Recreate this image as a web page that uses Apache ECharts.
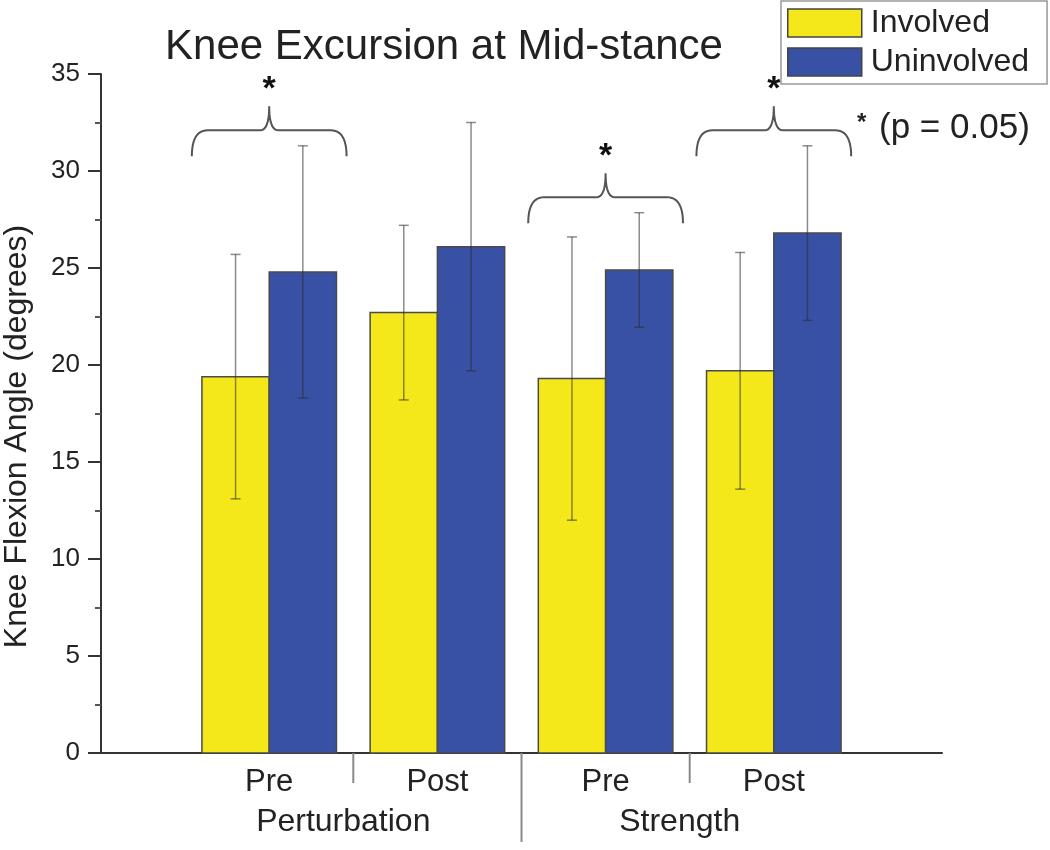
<!DOCTYPE html>
<html><head><meta charset="utf-8">
<script src="https://cdn.jsdelivr.net/npm/echarts/dist/echarts.min.js"></script>
<style>html,body{margin:0;padding:0;background:#fff}#c{width:1050px;height:850px}</style>
</head><body><div id="c"></div>
<script>
// ---- data ----
const categories = ['Pre', 'Post', 'Pre', 'Post'];
const groups = ['Perturbation', 'Strength'];
const seriesNames = ['Involved', 'Uninvolved'];
const involved = [19.4, 22.7, 19.3, 19.7];
const involvedSD = [6.3, 4.5, 7.3, 6.1];
const uninvolved = [24.8, 26.1, 24.9, 26.8];
const uninvolvedSD = [6.5, 6.4, 2.95, 4.5];
const significant = [true, false, true, true];
const yTicks = [0, 5, 10, 15, 20, 25, 30, 35];
const titleText = 'Knee Excursion at Mid-stance';
const yName = 'Knee Flexion Angle (degrees)';
const pNote = '(p = 0.05)';

// ---- styles ----
const FONT = 'Liberation Sans, Arial, Helvetica, sans-serif';
const YELLOW = '#f5e81a';
const BLUE = '#3851a4';
const BW = 0.4;   // bar width in x units
const BH = 0.46;  // brace half width in x units

const chart = echarts.init(document.getElementById('c'), null, {renderer: 'canvas'});

function barRenderer(side, color) {
  return function (params, api) {
    const x = api.value(0), v = api.value(1);
    const xa = side < 0 ? x - BW : x, xb = side < 0 ? x : x + BW;
    const p0 = api.coord([xa, v]), p1 = api.coord([xb, 0]);
    return {type: 'rect', shape: {x: p0[0], y: p0[1], width: p1[0] - p0[0], height: p1[1] - p0[1]},
      style: {fill: color, stroke: '#4a4a4a', lineWidth: 1.5}};
  };
}
function errRenderer(side) {
  return function (params, api) {
    const x = api.value(0) + side * BW / 2;
    const lo = api.coord([x, api.value(1)]), hi = api.coord([x, api.value(2)]);
    const c = 5;
    const st = {stroke: 'rgba(45,45,45,0.55)', lineWidth: 1.5};
    return {type: 'group', children: [
      {type: 'line', shape: {x1: lo[0], y1: lo[1], x2: hi[0], y2: hi[1]}, style: st},
      {type: 'line', shape: {x1: hi[0] - c, y1: hi[1], x2: hi[0] + c, y2: hi[1]}, style: st},
      {type: 'line', shape: {x1: lo[0] - c, y1: lo[1], x2: lo[0] + c, y2: lo[1]}, style: st}
    ]};
  };
}
function quad(p0, c, p1, n) {
  const out = [];
  for (let i = 1; i <= n; i++) {
    const t = i / n, u = 1 - t;
    out.push([u * u * p0[0] + 2 * u * t * c[0] + t * t * p1[0], u * u * p0[1] + 2 * u * t * c[1] + t * t * p1[1]]);
  }
  return out;
}
function braceRenderer(params, api) {
  const c = api.value(0), lvl = api.value(1);
  const L = api.coord([c - BH, lvl]), R = api.coord([c + BH, lvl]);
  const y = L[1], x0 = L[0], x1 = R[0], xc = (x0 + x1) / 2;
  const drop = 26, peak = 24, rc = 16, cw = 9;
  let pts = [[x0, y + drop]];
  pts = pts.concat(quad([x0, y + drop], [x0, y], [x0 + rc, y], 12));
  pts.push([xc - cw, y]);
  pts = pts.concat(quad([xc - cw, y], [xc, y], [xc, y - peak], 10));
  pts = pts.concat(quad([xc, y - peak], [xc, y], [xc + cw, y], 10));
  pts.push([x1 - rc, y]);
  pts = pts.concat(quad([x1 - rc, y], [x1, y], [x1, y + drop], 12));
  return {type: 'group', children: [
    {type: 'polyline', shape: {points: pts}, style: {stroke: '#555', lineWidth: 2, fill: null}},
    {type: 'text', x: xc, y: y - peak - 17, style: {text: '*', font: 'bold 34px ' + FONT, fill: '#111', align: 'center', verticalAlign: 'middle'}}
  ]};
}
function dividerRenderer(params, api) {
  const x = api.value(0), long = api.value(1) > 0;
  const p = api.coord([x, 0]);
  return {type: 'line', shape: {x1: p[0], y1: p[1], x2: p[0], y2: p[1] + (long ? 89 : 30)},
    style: {stroke: '#8a8a8a', lineWidth: 2}};
}
function groupLabelRenderer(params, api) {
  const p = api.coord([api.value(0), 0]);
  return {type: 'text', x: p[0] - 10, y: p[1] + 69,
    style: {text: groups[params.dataIndex], font: '32px ' + FONT, fill: '#222', align: 'center', verticalAlign: 'middle'}};
}

const braceData = [];
significant.forEach((s, i) => {
  if (s) braceData.push([i + 1, Math.max(involved[i] + involvedSD[i], uninvolved[i] + uninvolvedSD[i]) + 0.8]);
});
const dividerData = [];
for (let i = 0; i < categories.length - 1; i++) dividerData.push([i + 1.5, (i + 1) % 2 === 0 ? 1 : 0]);
const groupData = groups.map((g, j) => [2 * j + 1.5, 0]);

const option = {
  animation: false,
  backgroundColor: '#fff',
  textStyle: {fontFamily: FONT},
  grid: {left: 101, right: 108, top: 74, bottom: 97, containLabel: false, outerBoundsMode: 'none'},
  xAxis: {
    type: 'value', min: 0, max: categories.length + 1, interval: 1,
    axisLine: {show: true, onZero: false, lineStyle: {color: '#333', width: 2}},
    axisTick: {show: false},
    axisLabel: {formatter: v => categories[Math.round(v) - 1] || '', fontSize: 31, color: '#222', margin: 14, fontFamily: FONT},
    splitLine: {show: false}
  },
  yAxis: {
    type: 'value', min: yTicks[0], max: yTicks[yTicks.length - 1], interval: yTicks[1] - yTicks[0],
    name: yName, nameLocation: 'middle', nameGap: 68,
    nameTextStyle: {fontSize: 32, color: '#222', fontFamily: FONT, padding: [0, 46, 0, 0]},
    axisLine: {show: true, onZero: false, lineStyle: {color: '#333', width: 2}},
    axisTick: {show: true, length: 13, lineStyle: {color: '#333', width: 2}},
    minorTick: {show: true, splitNumber: 2, length: 6, lineStyle: {color: '#555', width: 2}},
    axisLabel: {fontSize: 26, color: '#222', margin: 21, fontFamily: FONT},
    splitLine: {show: false}
  },
  legend: {
    orient: 'vertical', left: 781, top: 1, icon: 'rect',
    itemWidth: 74, itemHeight: 28, itemGap: 7,
    padding: [6, 18, 6, 6], borderColor: '#999', borderWidth: 1.5,
    textStyle: {fontSize: 32, lineHeight: 32, color: '#222', fontFamily: FONT, padding: [0, 0, 0, 4]},
    data: [
      {name: seriesNames[0], itemStyle: {color: YELLOW, borderColor: '#444', borderWidth: 1.5}},
      {name: seriesNames[1], itemStyle: {color: BLUE, borderColor: '#444', borderWidth: 1.5}}
    ]
  },
  graphic: [
    {type: 'text', x: 444, y: 47, style: {text: titleText, font: '42px ' + FONT, fill: '#222', align: 'center', verticalAlign: 'middle'}},
    {type: 'text', x: 857, y: 123, style: {text: '*', font: 'bold 24px ' + FONT, fill: '#222', align: 'left', verticalAlign: 'middle'}},
    {type: 'text', x: 879, y: 128.5, style: {text: pNote, font: '35px ' + FONT, fill: '#222', align: 'left', verticalAlign: 'middle'}}
  ],
  series: [
    {name: seriesNames[0], type: 'custom', itemStyle: {color: YELLOW}, renderItem: barRenderer(-1, YELLOW),
      encode: {x: 0, y: 1}, data: involved.map((v, i) => [i + 1, v]), z: 2},
    {name: seriesNames[1], type: 'custom', itemStyle: {color: BLUE}, renderItem: barRenderer(1, BLUE),
      encode: {x: 0, y: 1}, data: uninvolved.map((v, i) => [i + 1, v]), z: 2},
    {type: 'custom', renderItem: errRenderer(-1), encode: {x: 0, y: [1, 2]},
      data: involved.map((v, i) => [i + 1, v - involvedSD[i], v + involvedSD[i]]), z: 3},
    {type: 'custom', renderItem: errRenderer(1), encode: {x: 0, y: [1, 2]},
      data: uninvolved.map((v, i) => [i + 1, v - uninvolvedSD[i], v + uninvolvedSD[i]]), z: 3},
    {type: 'custom', renderItem: braceRenderer, encode: {x: 0, y: 1}, data: braceData, z: 3, clip: false},
    {type: 'custom', renderItem: dividerRenderer, encode: {x: 0}, data: dividerData, z: 3, clip: false},
    {type: 'custom', renderItem: groupLabelRenderer, encode: {x: 0, y: 1}, data: groupData, z: 3, clip: false}
  ]
};
chart.setOption(option);
</script>
</body></html>
